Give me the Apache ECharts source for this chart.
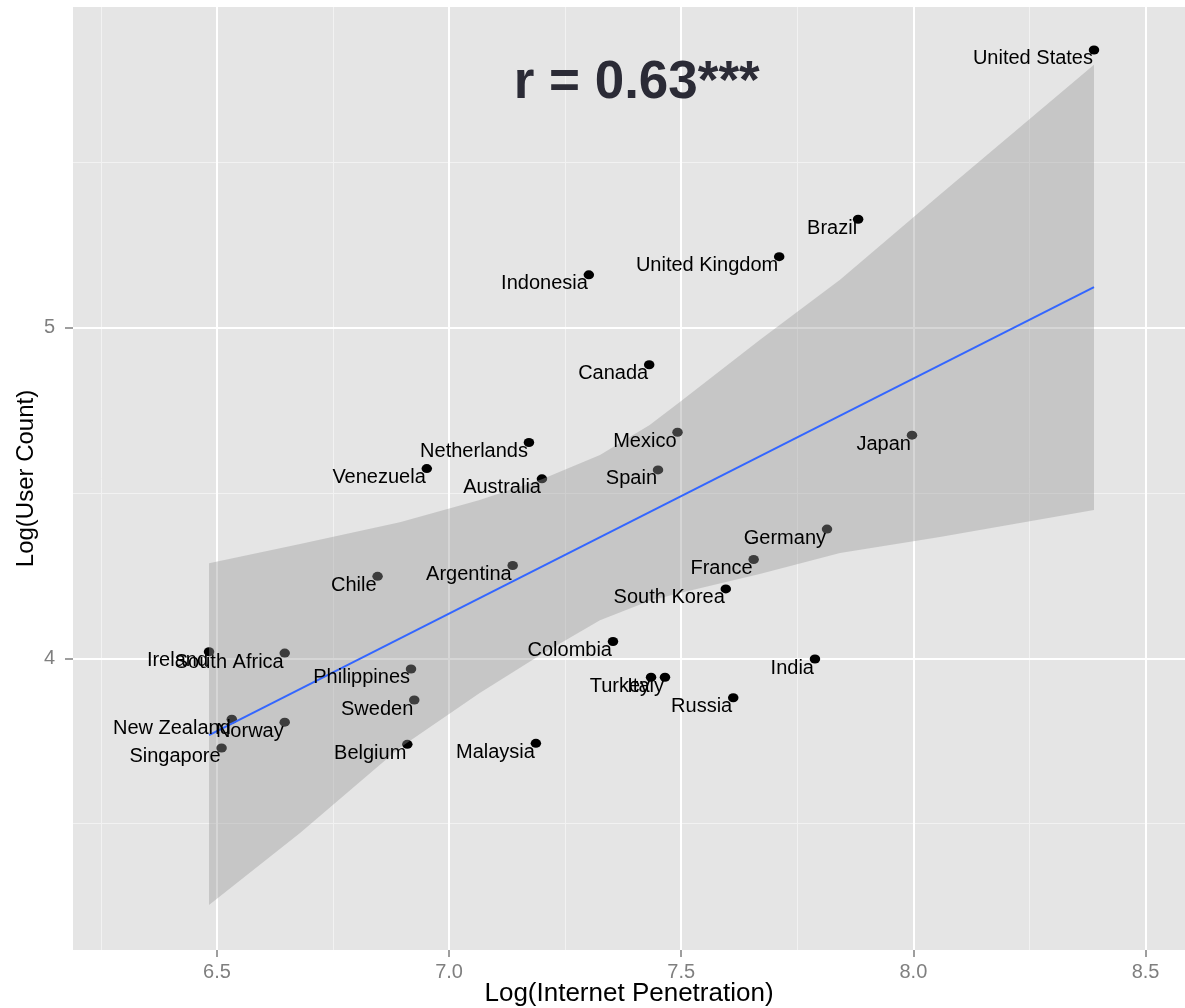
<!DOCTYPE html>
<html lang="en">
<head>
  <meta charset="UTF-8">
  <title>Users vs internet penetration</title>
  <script src="https://cdn.jsdelivr.net/npm/echarts@6/dist/echarts.min.js"></script>
</head>
<style>
  * {
    padding: 0px;
    margin: 0px;
  }
  body { background: #fff; }
</style>
<body>
<div id="main" style="width:1185px;height:1008px;"></div>
<script>
  // countries and their (log penetration, log user count)
  var countries = ['United States', 'Brazil', 'United Kingdom', 'Indonesia', 'Canada', 'Netherlands',
    'Venezuela', 'Australia', 'Mexico', 'Spain', 'Argentina', 'Chile', 'Japan', 'Germany', 'France',
    'South Korea', 'Ireland', 'South Africa', 'Philippines', 'Sweden', 'New Zealand', 'Norway',
    'Singapore', 'Belgium', 'Malaysia', 'Colombia', 'Turkey', 'Italy', 'Russia', 'India'];
  var penetration = [8.389, 7.881, 7.711, 7.301, 7.431, 7.172,
    6.952, 7.200, 7.492, 7.450, 7.137, 6.846, 7.997, 7.814, 7.656,
    7.596, 6.483, 6.646, 6.918, 6.925, 6.532, 6.646,
    6.510, 6.910, 7.187, 7.353, 7.435, 7.465, 7.612, 7.788];
  var userCount = [5.840, 5.328, 5.215, 5.160, 4.888, 4.653,
    4.574, 4.543, 4.684, 4.570, 4.281, 4.248, 4.675, 4.391, 4.299,
    4.210, 4.020, 4.016, 3.968, 3.874, 3.816, 3.807,
    3.729, 3.740, 3.743, 4.051, 3.943, 3.943, 3.881, 3.998];

  // fitted line and its confidence band
  var fitX = [6.483, 8.389];
  var fitY = [3.768, 5.123];
  var bandX = [6.483, 6.679, 6.894, 7.066, 7.200, 7.325, 7.432, 7.497, 7.669, 7.842, 8.057, 8.389];
  var bandUpper = [4.288, 4.346, 4.412, 4.479, 4.542, 4.615, 4.706, 4.775, 4.963, 5.145, 5.402, 5.795];
  var bandLower = [3.254, 3.472, 3.730, 3.895, 4.013, 4.115, 4.174, 4.198, 4.255, 4.319, 4.367, 4.449];

  // axis ticks and grid lines
  var xTicks = [6.5, 7.0, 7.5, 8.0, 8.5];
  var xMinor = [6.25, 6.75, 7.25, 7.75, 8.25];
  var yTicks = [4, 5];
  var yMinor = [3.5, 4.5, 5.5];

  var annotation = 'r = 0.63***';
  var annotationPos = [7.404, 5.740];

  var labelFont = 'Liberation Sans, Arial, sans-serif';
  var myChart = echarts.init(document.getElementById('main'));

  var points = penetration.map(function (x, i) {
    return [x, userCount[i], countries[i]];
  });

  var gridLines = [];
  xMinor.forEach(function (v) {
    gridLines.push({xAxis: v, lineStyle: {color: '#f2f2f2', width: 1, type: 'solid'}});
  });
  yMinor.forEach(function (v) {
    gridLines.push({yAxis: v, lineStyle: {color: '#f2f2f2', width: 1, type: 'solid'}});
  });
  xTicks.forEach(function (v) {
    gridLines.push({xAxis: v, lineStyle: {color: '#ffffff', width: 2, type: 'solid'}});
  });
  yTicks.forEach(function (v) {
    gridLines.push({yAxis: v, lineStyle: {color: '#ffffff', width: 2, type: 'solid'}});
  });

  myChart.setOption({
    animation: false,
    backgroundColor: '#fff',
    textStyle: {fontFamily: labelFont},
    grid: {
      left: 73,
      right: 0,
      top: 7,
      bottom: 58,
      outerBoundsMode: 'none',
      containLabel: false,
      show: true,
      backgroundColor: '#e5e5e5',
      borderWidth: 0
    },
    xAxis: {
      type: 'value',
      min: 6.19,
      max: 8.585,
      name: 'Log(Internet Penetration)',
      nameLocation: 'middle',
      nameGap: 31,
      nameMoveOverlap: false,
      nameTextStyle: {fontSize: 26, color: '#000'},
      axisLine: {show: false},
      axisTick: {show: true, length: 7, customValues: xTicks, lineStyle: {color: '#7f7f7f', width: 1.5}},
      axisLabel: {
        customValues: xTicks,
        margin: 12,
        fontSize: 20,
        color: '#7f7f7f',
        formatter: function (v) { return v.toFixed(1); }
      },
      splitLine: {show: false}
    },
    yAxis: {
      type: 'value',
      min: 3.118,
      max: 5.970,
      name: 'Log(User Count)',
      nameLocation: 'middle',
      nameGap: 35,
      nameMoveOverlap: false,
      nameTextStyle: {fontSize: 24, color: '#000'},
      axisLine: {show: false},
      axisTick: {show: true, length: 8, customValues: yTicks, lineStyle: {color: '#7f7f7f', width: 1.5}},
      axisLabel: {
        customValues: yTicks,
        margin: 18,
        fontSize: 20,
        color: '#7f7f7f'
      },
      splitLine: {show: false}
    },
    series: [
      {
        name: 'grid',
        type: 'line',
        data: [],
        z: 1,
        silent: true,
        markLine: {
          z: 1,
          symbol: ['none', 'none'],
          silent: true,
          label: {show: false},
          data: gridLines
        }
      },
      {
        name: 'points',
        type: 'scatter',
        z: 2,
        symbolSize: [10.5, 9],
        itemStyle: {color: '#000', opacity: 1},
        data: points
      },
      {
        name: 'band',
        type: 'custom',
        z: 3,
        silent: true,
        data: [0],
        renderItem: function (params, api) {
          var pts = [];
          for (var i = 0; i < bandX.length; i++) {
            pts.push(api.coord([bandX[i], bandUpper[i]]));
          }
          for (var j = bandX.length - 1; j >= 0; j--) {
            pts.push(api.coord([bandX[j], bandLower[j]]));
          }
          return {
            type: 'polygon',
            shape: {points: pts},
            style: {fill: 'rgba(153,153,153,0.4)'}
          };
        }
      },
      {
        name: 'fit',
        type: 'line',
        z: 4,
        showSymbol: false,
        lineStyle: {color: '#3366ff', width: 2},
        data: fitX.map(function (x, i) { return [x, fitY[i]]; })
      },
      {
        name: 'labels',
        type: 'scatter',
        z: 5,
        symbolSize: 1,
        itemStyle: {color: 'transparent', opacity: 1},
        data: points,
        label: {
          show: true,
          position: ['50%', '50%'],
          align: 'right',
          verticalAlign: 'top',
          offset: [-1, -1],
          fontSize: 20,
          color: '#000',
          formatter: function (p) { return p.data[2]; }
        }
      },
      {
        name: 'annotation',
        type: 'scatter',
        z: 6,
        symbolSize: 1,
        itemStyle: {color: 'transparent', opacity: 1},
        data: [annotationPos],
        label: {
          show: true,
          position: ['50%', '50%'],
          align: 'center',
          verticalAlign: 'middle',
          fontSize: 53,
          fontWeight: 'bold',
          color: '#2b2b36',
          formatter: annotation
        }
      }
    ]
  });
</script>
</body>
</html>
